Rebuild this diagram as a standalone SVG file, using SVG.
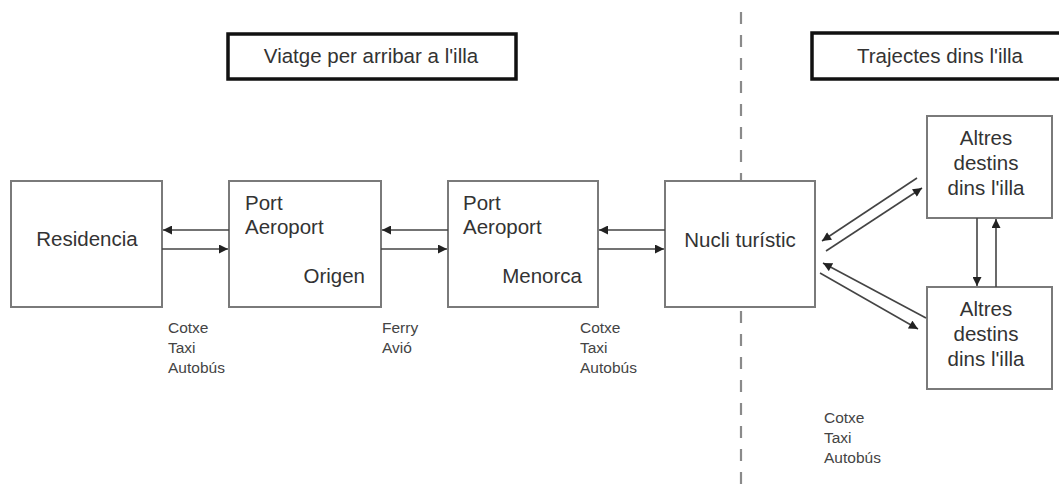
<svg xmlns="http://www.w3.org/2000/svg" width="1059" height="489" viewBox="0 0 1059 489">
  <defs>
    <marker id="arrow" viewBox="0 0 10 10" refX="10" refY="5" markerWidth="10" markerHeight="9" markerUnits="userSpaceOnUse" orient="auto">
      <path d="M0,0 L10,5 L0,10 Z" fill="#222"/>
    </marker>
    <style>
      .box { fill: #fff; stroke: #7a7a7a; stroke-width: 2; }
      .head { fill: #fff; stroke: #111; stroke-width: 3.5; }
      .lbl { font-family: "Liberation Sans", Arial, sans-serif; font-size: 20.5px; fill: #333; }
      .hdr { font-family: "Liberation Sans", Arial, sans-serif; font-size: 20.5px; fill: #333; text-anchor: middle; }
      .mode { font-family: "Liberation Sans", Arial, sans-serif; font-size: 15.5px; fill: #444; }
      .conn { stroke: #444; stroke-width: 1.6; fill: none; marker-end: url(#arrow); }
      .divider { stroke: #8a8a8a; stroke-width: 2.2; stroke-dasharray: 12 11; fill: none; }
    </style>
  </defs>

  <rect width="1059" height="489" fill="#fff"/>

  <!-- island boundary -->
  <line class="divider" x1="741" y1="12" x2="741" y2="489"/>

  <!-- section headers -->
  <g id="header-viatge">
    <rect class="head" x="228" y="34" width="288" height="45"/>
    <text class="hdr" x="371" y="63">Viatge per arribar a l'illa</text>
  </g>
  <g id="header-trajectes">
    <rect class="head" x="812" y="33" width="252" height="46"/>
    <text class="hdr" x="940" y="63">Trajectes dins l'illa</text>
  </g>

  <!-- nodes -->
  <g id="residencia">
    <rect class="box" x="11" y="181" width="151" height="126"/>
    <text class="lbl" x="87" y="246" text-anchor="middle">Residencia</text>
  </g>
  <g id="origen">
    <rect class="box" x="229" y="181" width="152" height="126"/>
    <text class="lbl" x="245" y="210">Port</text>
    <text class="lbl" x="245" y="234">Aeroport</text>
    <text class="lbl" x="365" y="283" text-anchor="end">Origen</text>
  </g>
  <g id="menorca">
    <rect class="box" x="448" y="181" width="150" height="126"/>
    <text class="lbl" x="463" y="210">Port</text>
    <text class="lbl" x="463" y="234">Aeroport</text>
    <text class="lbl" x="582" y="283" text-anchor="end">Menorca</text>
  </g>
  <g id="nucli">
    <rect class="box" x="665" y="181" width="150" height="126"/>
    <text class="lbl" x="740" y="247" text-anchor="middle">Nucli turístic</text>
  </g>
  <g id="destins-1">
    <rect class="box" x="927" y="116" width="125" height="102"/>
    <text class="lbl" x="986" y="145" text-anchor="middle">Altres</text>
    <text class="lbl" x="986" y="170" text-anchor="middle">destins</text>
    <text class="lbl" x="986" y="195" text-anchor="middle">dins l'illa</text>
  </g>
  <g id="destins-2">
    <rect class="box" x="927" y="287" width="125" height="102"/>
    <text class="lbl" x="986" y="316" text-anchor="middle">Altres</text>
    <text class="lbl" x="986" y="341" text-anchor="middle">destins</text>
    <text class="lbl" x="986" y="366" text-anchor="middle">dins l'illa</text>
  </g>

  <!-- transport modes -->
  <g id="modes">
    <text class="mode" x="168" y="333">Cotxe</text>
    <text class="mode" x="168" y="353">Taxi</text>
    <text class="mode" x="168" y="373">Autobús</text>
    <text class="mode" x="382" y="333">Ferry</text>
    <text class="mode" x="382" y="353">Avió</text>
    <text class="mode" x="580" y="333">Cotxe</text>
    <text class="mode" x="580" y="353">Taxi</text>
    <text class="mode" x="580" y="373">Autobús</text>
    <text class="mode" x="824" y="423">Cotxe</text>
    <text class="mode" x="824" y="443">Taxi</text>
    <text class="mode" x="824" y="463">Autobús</text>
  </g>

  <!-- connectors -->
  <g id="connectors">
    <line class="conn" x1="229" y1="230" x2="163" y2="230"/>
    <line class="conn" x1="162" y1="249" x2="228" y2="249"/>
    <line class="conn" x1="448" y1="230" x2="382" y2="230"/>
    <line class="conn" x1="381" y1="249" x2="447" y2="249"/>
    <line class="conn" x1="665" y1="230" x2="599" y2="230"/>
    <line class="conn" x1="598" y1="249" x2="664" y2="249"/>
    <line class="conn" x1="917" y1="178" x2="822" y2="241"/>
    <line class="conn" x1="826" y1="251" x2="922" y2="188"/>
    <line class="conn" x1="926" y1="318" x2="823" y2="263"/>
    <line class="conn" x1="820" y1="273" x2="918" y2="329"/>
    <line class="conn" x1="977" y1="218" x2="977" y2="286"/>
    <line class="conn" x1="996" y1="287" x2="996" y2="219"/>
  </g>
</svg>
